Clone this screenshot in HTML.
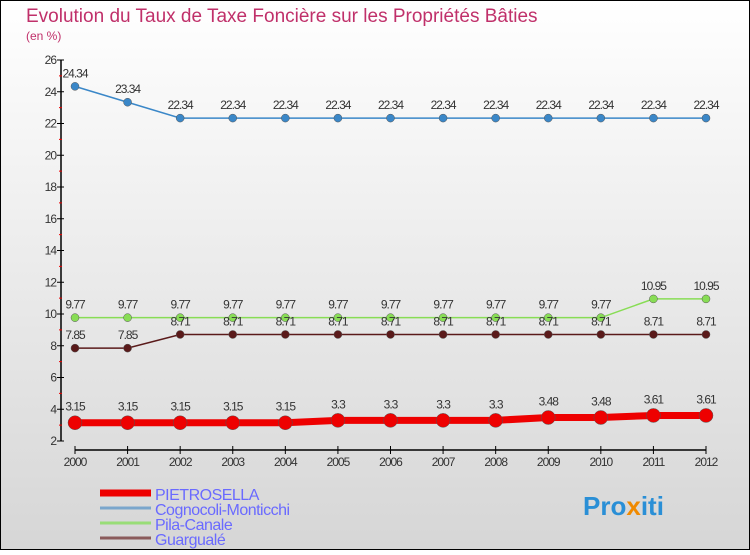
<!DOCTYPE html>
<html><head><meta charset="utf-8"><style>
html,body{margin:0;padding:0}
body{width:750px;height:550px;overflow:hidden;font-family:"Liberation Sans",sans-serif}
</style></head><body>
<svg id="chart" width="750" height="550" xmlns="http://www.w3.org/2000/svg">
<defs><linearGradient id="bg" x1="0" y1="0" x2="0" y2="1"><stop offset="0" stop-color="#ffffff"/><stop offset="1" stop-color="#d6d6d6"/></linearGradient></defs>
<rect x="0.5" y="0.5" width="749" height="549" fill="url(#bg)" stroke="#000"/>
<text x="26" y="22" font-size="19" fill="#c0306a">Evolution du Taux de Taxe Foncière sur les Propriétés Bâties</text>
<text x="26" y="40" font-size="12" fill="#c0306a">(en %)</text>
<g id="axes"></g>
<g id="series"></g>
<g id="legend"></g>
<text x="583" y="515" font-size="26" font-weight="bold" fill="#2a8fd6">Pro<tspan fill="#f08a00">x</tspan>iti</text>
</svg>
<script>
const years=[2000,2001,2002,2003,2004,2005,2006,2007,2008,2009,2010,2011,2012];
const yTicks=[2,4,6,8,10,12,14,16,18,20,22,24,26];
const pietrosella=[3.15,3.15,3.15,3.15,3.15,3.3,3.3,3.3,3.3,3.48,3.48,3.61,3.61];
const cognocoli=[24.34,23.34,22.34,22.34,22.34,22.34,22.34,22.34,22.34,22.34,22.34,22.34,22.34];
const pila=[9.77,9.77,9.77,9.77,9.77,9.77,9.77,9.77,9.77,9.77,9.77,10.95,10.95];
const guargale=[7.85,7.85,8.71,8.71,8.71,8.71,8.71,8.71,8.71,8.71,8.71,8.71,8.71];
const seriesNames=["PIETROSELLA","Cognocoli-Monticchi","Pila-Canale","Guargualé"];
const NS="http://www.w3.org/2000/svg";
const xs=i=>75+i*(706-75)/(years.length-1);
const ys=v=>441-(v-2)*(441-60)/24;
function mk(tag,attrs,parent){const e=document.createElementNS(NS,tag);for(const k in attrs)e.setAttribute(k,attrs[k]);parent.appendChild(e);return e;}
const axes=document.getElementById('axes');
let e=mk('line',{x1:61,y1:60,x2:61,y2:441,stroke:'#000','stroke-width':1.5},axes);


e=mk('line',{x1:75,y1:450,x2:706,y2:450,stroke:'#000','stroke-width':1.5},axes);


yTicks.forEach((t,i)=>{
  const y=ys(t);
  let l=mk('line',{x1:57,y1:y,x2:64,y2:y,stroke:'#000'},axes);
  
  
  let tx=mk('text',{x:56,y:y+4,'font-size':12,'text-anchor':'end',fill:'#333','letter-spacing':'-1'},axes);
  tx.textContent=t;
  
  
  if(i<yTicks.length-1){let m=mk('line',{x1:59,y1:ys(t+1),x2:62,y2:ys(t+1),stroke:'#e00'},axes);
  
  }
});
years.forEach((yr,i)=>{
  const x=xs(i);
  let l=mk('line',{x1:x,y1:446,x2:x,y2:454,stroke:'#000'},axes);
  
  
  let tx=mk('text',{x:x,y:466,'font-size':12,'text-anchor':'middle',fill:'#333','letter-spacing':'-1'},axes);
  tx.textContent=yr;
  
  
});
const sg=document.getElementById('series');
function drawSeries(vals,color,width,r,name,labelDy,labelFmt){
  const g=mk('g',{},sg);
  
  
  const pts=vals.map((v,i)=>xs(i)+','+ys(v)).join(' ');
  const pl=mk('polyline',{points:pts,fill:'none',stroke:color,'stroke-width':width},g);
  
  
  vals.forEach((v,i)=>{
    const c=mk('circle',{cx:xs(i),cy:ys(v),r:r,fill:color,stroke:'#555','stroke-width':0.5},g);
    
    
    const t=mk('text',{x:xs(i),y:ys(v)+labelDy,'font-size':12,'text-anchor':'middle',fill:'#333','letter-spacing':'-1'},g);
    t.textContent=String(v);
    
    
  });
}
drawSeries(cognocoli,'#3a87c8',1.5,4,'cognocoli',-9);
drawSeries(pila,'#88dd55',1.5,4,'pila-canale',-9);
drawSeries(guargale,'#5a1a1a',1.5,4,'guargale',-9);
drawSeries(pietrosella,'#ee0000',7,7,'pietrosella',-12);
const lg=document.getElementById('legend');
const legColors=['#ee0000','#7aa6cc','#99dd77','#8a5a5a'];
const legW=[7,3,3,3];
seriesNames.forEach((n,i)=>{
  const y=493+i*15;
  const g=mk('g',{},lg);
  
  
  mk('line',{x1:100,y1:y,x2:151,y2:y,stroke:legColors[i],'stroke-width':legW[i]},g);
  const t=mk('text',{x:155,y:y+7,'font-size':16,fill:'#6a6aff','letter-spacing':'-0.5'},g);
  t.textContent=n;
});
</script>
</body></html>
